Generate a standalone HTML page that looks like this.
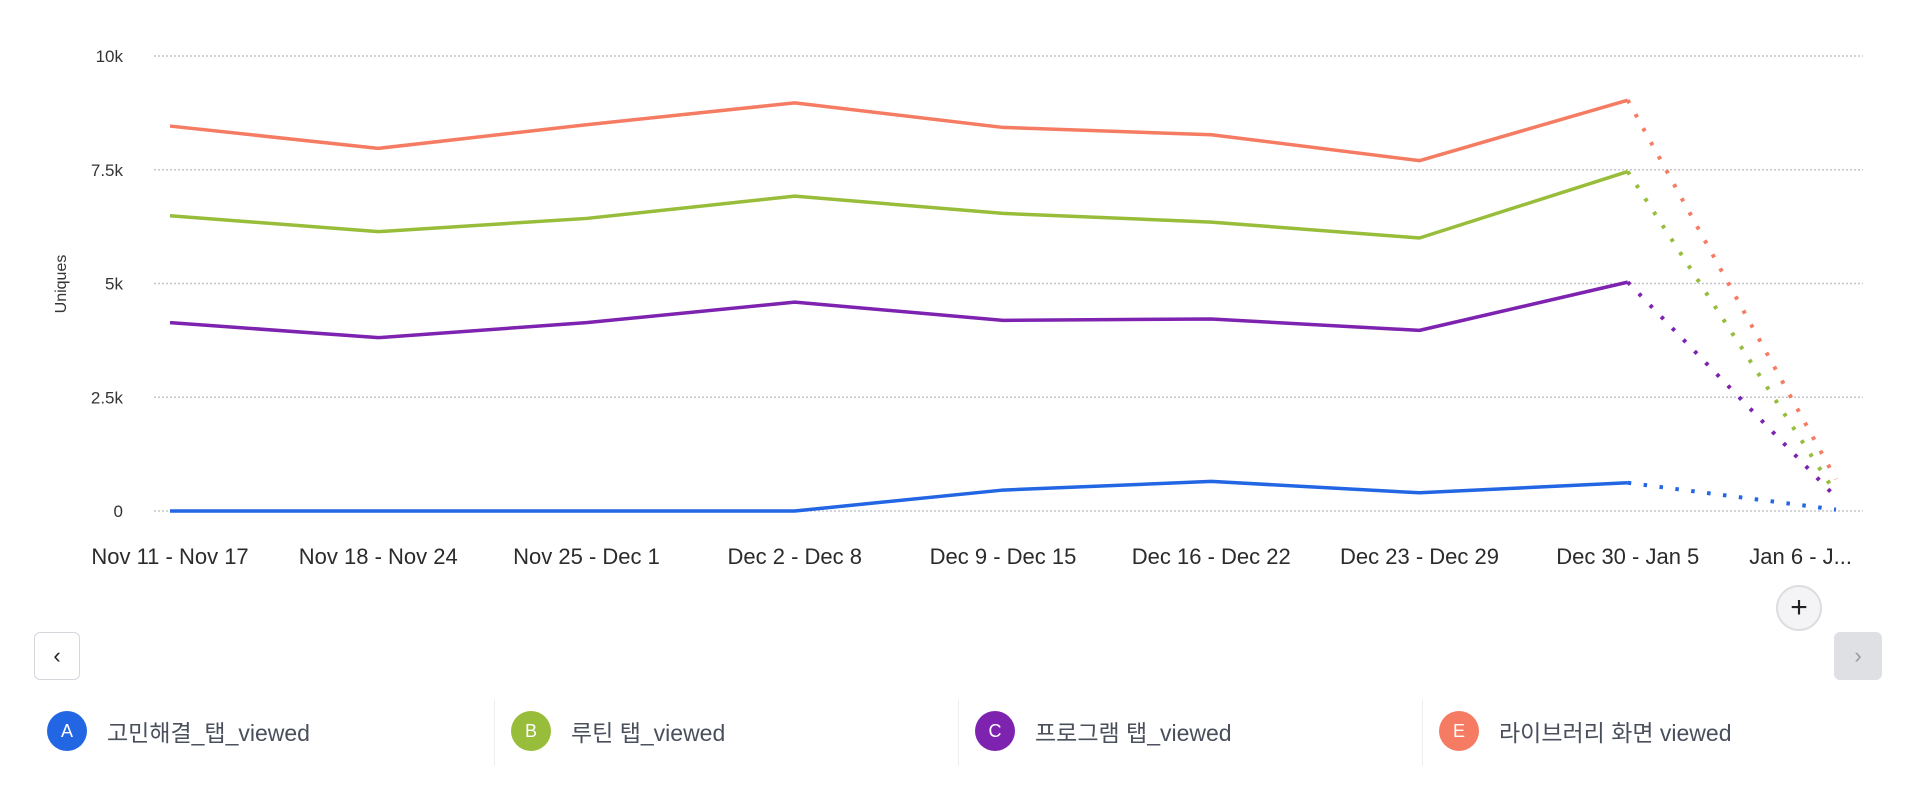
<!DOCTYPE html>
<html><head><meta charset="utf-8"><style>
body{margin:0;width:1924px;height:806px;background:#fff;overflow:hidden;font-family:"Liberation Sans","Noto Sans CJK KR",sans-serif}
svg{position:absolute;left:0;top:0}
.btn{position:absolute;box-sizing:border-box;border-radius:6px}
.leg{position:absolute;top:701px;height:60px;display:flex;align-items:center}
.dot{width:40px;height:40px;border-radius:50%;color:#fff;font-size:18px;display:flex;align-items:center;justify-content:center;margin-right:20px}
.lt{font-size:23px;color:#4a4f5c}
.div{position:absolute;top:700px;width:1px;height:66px;background:#eceef1}
</style></head><body>
<svg id="chart" width="1924" height="806"></svg>
<div class="btn" style="left:34px;top:632px;width:46px;height:48px;border:1.5px solid #d5d7dc;background:#fff;font-size:22px;display:flex;align-items:center;justify-content:center;color:#222">&#8249;</div>
<div class="btn" style="left:1834px;top:632px;width:48px;height:48px;background:#dfe0e3;font-size:22px;display:flex;align-items:center;justify-content:center;color:#999">&#8250;</div>
<div style="position:absolute;left:1776px;top:585px;width:46px;height:46px;border-radius:50%;border:2px solid #ddd;background:#f4f4f6;box-sizing:border-box;display:flex;align-items:center;justify-content:center;font-size:30px;color:#222">+</div>
<div class="leg" style="left:47px"><div class="dot" style="background:#2266e3">A</div><span class="lt">고민해결_탭_viewed</span></div>
<div class="div" style="left:494px"></div>
<div class="leg" style="left:511px"><div class="dot" style="background:#97bd3a">B</div><span class="lt">루틴 탭_viewed</span></div>
<div class="div" style="left:958px"></div>
<div class="leg" style="left:975px"><div class="dot" style="background:#7d23b0">C</div><span class="lt">프로그램 탭_viewed</span></div>
<div class="div" style="left:1422px"></div>
<div class="leg" style="left:1439px"><div class="dot" style="background:#f57c62">E</div><span class="lt">라이브러리 화면 viewed</span></div>
<script>
const categories=["Nov 11 - Nov 17","Nov 18 - Nov 24","Nov 25 - Dec 1","Dec 2 - Dec 8","Dec 9 - Dec 15","Dec 16 - Dec 22","Dec 23 - Dec 29","Dec 30 - Jan 5","Jan 6 - J..."];
const seriesA=[0,0,0,0,460,650,400,620,30];
const seriesB=[6490,6140,6430,6920,6540,6350,6000,7460,380];
const seriesC=[4140,3810,4140,4590,4190,4220,3970,5030,300];
const seriesE=[8460,7970,8490,8970,8430,8270,7700,9030,700];
const yTicks=[0,2500,5000,7500,10000];
const yTickLabels=["0","2.5k","5k","7.5k","10k"];
const svg=document.getElementById('chart');const NS='http://www.w3.org/2000/svg';
const x=i=>170+i*(1836-170)/(categories.length-1);
const y=v=>511-v/10000*455;
function mk(t,a){const e=document.createElementNS(NS,t);for(const k in a)e.setAttribute(k,a[k]);svg.appendChild(e);return e;}
yTicks.forEach((v,i)=>{
 const g=mk('line',{x1:154,x2:1863,y1:y(v),y2:y(v),stroke:'#c4c6cc','stroke-width':1.5,'stroke-dasharray':'2 2'});
 
 
 const t=mk('text',{x:123,y:y(v)+6,'text-anchor':'end','font-size':17,fill:'#333'});t.textContent=yTickLabels[i];
 
 
});
const yt=mk('text',{transform:'translate(66,284) rotate(-90)','text-anchor':'middle','font-size':16,fill:'#333'});yt.textContent='Uniques';


categories.forEach((c,i)=>{
 const last=i===categories.length-1;
 const t=mk('text',{x:last?1852:x(i),y:564,'text-anchor':last?'end':'middle','font-size':22,fill:'#2b2b2b'});t.textContent=c;
 
 });
[[seriesA,'#2266e3'],[seriesB,'#97bd3a'],[seriesC,'#7d23b0'],[seriesE,'#f57c62']].forEach(([s,col],k)=>{
 const n=s.length;
 const pts=s.slice(0,n-1).map((v,i)=>x(i)+','+y(v)).join(' ');
 const p=mk('polyline',{points:pts,fill:'none',stroke:col,'stroke-width':3.5,'stroke-linejoin':'round'});
 
 
 const d=mk('line',{x1:x(n-2),y1:y(s[n-2]),x2:x(n-1),y2:y(s[n-1]),stroke:col,'stroke-width':4,'stroke-dasharray':'3.5 12.5'});
 
 
});
</script>
</body></html>
